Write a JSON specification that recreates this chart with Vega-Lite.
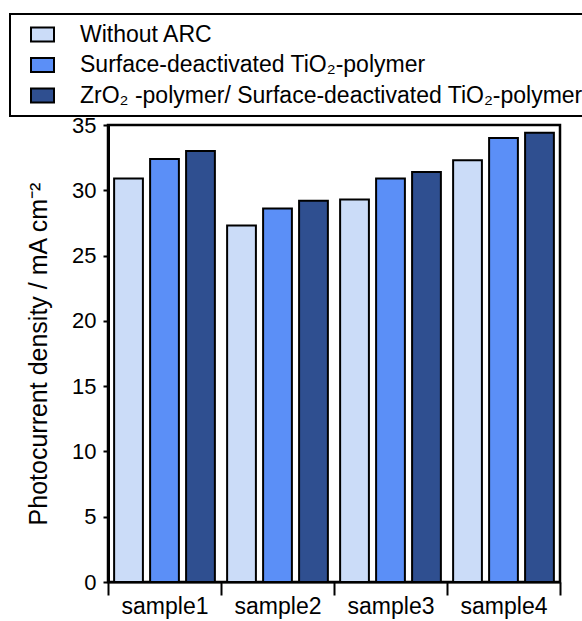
{
  "$schema": "https://vega.github.io/schema/vega-lite/v6.json",
  "autosize": "none",
  "width": 452,
  "height": 457,
  "padding": {"left": 108, "top": 125, "right": 22, "bottom": 39},
  "background": "white",
  "config": {
    "font": "Liberation Sans",
    "view": {"stroke": "black", "strokeWidth": 2.5},
    "legend": {"strokeWidth": 2}
  },
  "data": {
    "values": [
      {"sample": "sample1", "coating": "Without ARC", "density": 30.9},
      {"sample": "sample1", "coating": "Surface-deactivated TiO₂-polymer", "density": 32.4},
      {"sample": "sample1", "coating": "ZrO₂ -polymer/ Surface-deactivated TiO₂-polymer", "density": 33.0},
      {"sample": "sample2", "coating": "Without ARC", "density": 27.3},
      {"sample": "sample2", "coating": "Surface-deactivated TiO₂-polymer", "density": 28.6},
      {"sample": "sample2", "coating": "ZrO₂ -polymer/ Surface-deactivated TiO₂-polymer", "density": 29.2},
      {"sample": "sample3", "coating": "Without ARC", "density": 29.3},
      {"sample": "sample3", "coating": "Surface-deactivated TiO₂-polymer", "density": 30.9},
      {"sample": "sample3", "coating": "ZrO₂ -polymer/ Surface-deactivated TiO₂-polymer", "density": 31.4},
      {"sample": "sample4", "coating": "Without ARC", "density": 32.3},
      {"sample": "sample4", "coating": "Surface-deactivated TiO₂-polymer", "density": 34.0},
      {"sample": "sample4", "coating": "ZrO₂ -polymer/ Surface-deactivated TiO₂-polymer", "density": 34.4}
    ]
  },
  "mark": {"type": "bar", "stroke": "black", "strokeWidth": 2},
  "encoding": {
    "x": {
      "field": "sample",
      "type": "nominal",
      "sort": null,
      "scale": {"paddingInner": 0, "paddingOuter": 0},
      "axis": {
        "title": null,
        "labelAngle": 0,
        "labelFontSize": 23,
        "labelColor": "black",
        "labelPadding": 0,
        "domainColor": "black",
        "domainWidth": 2,
        "tickBand": "extent",
        "tickColor": "black",
        "tickWidth": 2,
        "tickSize": 13
      }
    },
    "xOffset": {
      "field": "coating",
      "type": "nominal",
      "sort": null,
      "scale": {"paddingInner": 0.2, "paddingOuter": 0.17}
    },
    "y": {
      "field": "density",
      "type": "quantitative",
      "scale": {"domain": [0, 35], "nice": false, "zero": true},
      "axis": {
        "title": "Photocurrent density / mA cm⁻²",
        "titleFontSize": 25,
        "titleFontWeight": "normal",
        "titleColor": "black",
        "titlePadding": 20,
        "values": [0, 5, 10, 15, 20, 25, 30, 35],
        "grid": false,
        "labelFontSize": 22,
        "labelColor": "black",
        "labelPadding": 7,
        "domainColor": "black",
        "domainWidth": 3,
        "tickColor": "black",
        "tickWidth": 2,
        "tickSize": 5
      }
    },
    "color": {
      "field": "coating",
      "type": "nominal",
      "sort": null,
      "scale": {
        "domain": ["Without ARC", "Surface-deactivated TiO₂-polymer", "ZrO₂ -polymer/ Surface-deactivated TiO₂-polymer"],
        "range": ["#cbdcf8", "#5b8ff7", "#2f4f90"]
      },
      "legend": {
        "title": null,
        "orient": "none",
        "legendX": -98,
        "legendY": -111,
        "direction": "vertical",
        "labelFontSize": 23,
        "labelColor": "black",
        "labelLimit": 800,
        "labelOffset": 25,
        "symbolType": "M-1,-0.6L1,-0.6L1,0.6L-1,0.6Z",
        "symbolSize": 529,
        "symbolStrokeColor": "black",
        "symbolStrokeWidth": 2,
        "symbolOpacity": 1,
        "symbolOffset": 12,
        "rowPadding": 5.5,
        "padding": 8,
        "strokeColor": "black",
        "fillColor": "white"
      }
    }
  }
}
